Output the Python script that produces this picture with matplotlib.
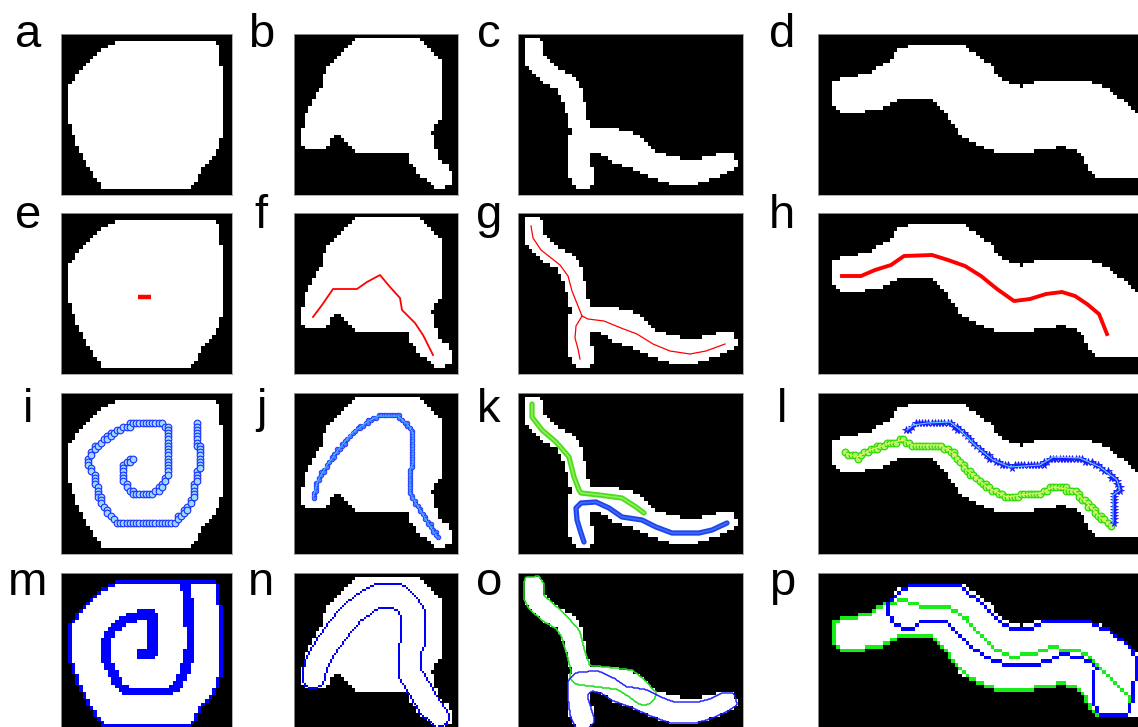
import numpy as np
import matplotlib
matplotlib.use('Agg')
import matplotlib.pyplot as plt
from matplotlib.path import Path

plt.rcParams['font.family'] = ['Liberation Sans', 'DejaVu Sans']

# object outlines, pixel coordinates inside each panel (y pointing down)
obj_a = [(57, 7), (151, 7), (159, 14), (161, 46), (162, 93), (159, 113), (152, 124), (142, 134),
         (131, 153), (41, 153), (29, 136), (19, 119), (14, 106), (9, 91), (9, 52), (19, 36),
         (29, 26), (41, 16), (52, 11)]
obj_b = [(63, 5), (124, 5), (149, 28), (149, 84), (140, 93), (138, 98), (141, 106), (143, 123),
         (153, 131), (158, 139), (157, 151), (143, 155), (126, 141), (116, 129), (114, 119),
         (64, 119), (41, 99), (38, 103), (36, 111), (29, 116), (13, 116), (8, 109), (8, 96),
         (13, 79), (21, 63), (29, 51), (31, 38), (38, 28), (46, 19)]
obj_c = [(9, 6), (20, 5), (24, 11), (24, 23), (35, 33), (49, 41), (59, 49), (64, 58), (65, 73),
         (68, 84), (70, 94), (99, 97), (114, 99), (125, 108), (135, 119), (152, 124), (172, 128),
         (189, 125), (202, 121), (215, 122), (217, 131), (210, 136), (195, 143), (179, 148),
         (152, 148), (132, 141), (115, 133), (95, 126), (85, 119), (74, 116), (70, 119), (70, 129),
         (74, 139), (74, 149), (69, 154), (59, 153), (54, 143), (52, 126), (52, 109), (55, 98),
         (50, 79), (45, 63), (39, 54), (25, 46), (12, 34), (8, 26), (8, 9)]
obj_d = [(14, 49), (22, 44), (49, 40), (59, 34), (70, 28), (82, 14), (102, 11), (145, 11),
         (159, 21), (172, 31), (185, 46), (202, 53), (224, 46), (282, 49), (295, 59), (309, 69),
         (319, 79), (320, 106), (320, 143), (312, 143), (304, 145), (279, 145), (269, 133),
         (262, 118), (245, 112), (235, 114), (209, 118), (182, 120), (162, 111), (145, 103),
         (132, 86), (119, 69), (115, 66), (79, 66), (69, 73), (52, 77), (25, 79), (17, 74), (13, 66)]
# the thin object is a little thicker than its traced outline
grow = [0.0, 0.0, 1.8, 0.0]

# medial lines (e - h)
skel_e = [(77, 84), (90, 84)]
skel_f = [(19, 104), (28, 92), (39, 76), (63, 76), (73, 69), (86, 62), (96, 74), (106, 85),
          (108, 97), (121, 110), (129, 122), (139, 142)]
skel_g_up = [(13, 13), (15, 25), (23, 37), (42, 52), (50, 63), (54, 78), (58, 88), (64, 103)]
skel_g_down = [(64, 103), (58, 113), (57, 125), (60, 136), (62, 146)]
skel_g_right = [(64, 103), (70, 106), (86, 108), (103, 115), (119, 121), (135, 131), (152, 138),
                (172, 141), (188, 138), (207, 131)]
skel_h = [(24, 63), (43, 63), (57, 57), (73, 52), (86, 43), (114, 42), (130, 47), (147, 53),
          (163, 63), (179, 76), (196, 88), (212, 86), (228, 81), (244, 79), (257, 83), (269, 91),
          (281, 101), (285, 111), (289, 121)]

# traced paths (i - l)
path_i = [(73, 65), (65, 69), (61, 75), (61, 84), (66, 94), (73, 100), (83, 102), (95, 99),
          (103, 89), (108, 80), (108, 54), (108, 37), (102, 30), (72, 30), (63, 35), (53, 39),
          (43, 47), (35, 54), (28, 64), (29, 74), (33, 84), (37, 100), (42, 112), (47, 120),
          (55, 129), (115, 129), (120, 122), (127, 114), (132, 104), (135, 84), (140, 74),
          (140, 58), (137, 52), (137, 29)]
path_j = [(19, 104), (24, 87), (33, 72), (44, 57), (58, 40), (73, 29), (84, 23), (104, 23),
          (114, 32), (119, 40), (119, 70), (116, 77), (116, 100), (123, 112), (128, 120),
          (134, 130), (143, 144)]
path_k_green = [(14, 11), (14, 24), (24, 37), (38, 49), (51, 64), (56, 84), (61, 97), (63, 100),
                (81, 102), (104, 105), (118, 114), (126, 120)]
path_k_blue = [(66, 149), (63, 140), (59, 127), (58, 115), (63, 110), (78, 109), (91, 115),
               (104, 124), (124, 127), (138, 134), (154, 140), (181, 140), (194, 137), (209, 130)]
path_l_green = [(27, 60), (39, 64), (52, 57), (72, 50), (85, 47), (95, 52), (122, 52), (135, 60),
                (149, 77), (169, 94), (189, 104), (202, 102), (222, 100), (235, 94), (255, 97),
                (269, 110), (282, 124), (292, 132)]
path_l_blue = [(89, 37), (95, 32), (109, 30), (132, 29), (142, 37), (159, 54), (175, 67), (192, 74),
               (222, 72), (235, 64), (262, 65), (282, 74), (299, 87), (302, 97), (295, 102),
               (295, 130)]

# gap left between the turns of the spiral (m)
gap_m = [(80, 81), (92, 81), (92, 42), (77, 42), (61, 49), (51, 57), (46, 67), (46, 87), (52, 102),
         (60, 114), (67, 119), (107, 119), (117, 112), (122, 102), (127, 87), (130, 70),
         (129, 54), (127, 30), (125, 15), (123, 10)]

letters = 'abcdefghijklmnop'
col_left = [61, 294, 518, 818]
col_width = [171, 164, 225, 322]
row_top = [34, 213, 393, 573]
letter_x = [28, 261, 489, 782]
letter_y = [47, 228, 422, 595]
ph = 161

W, H = 1138, 727
cs = 3.6
fig = plt.figure(figsize=(W / 100, H / 100), dpi=100)


def grid(w, h, step):
    nx = int(np.ceil(w / step))
    ny = int(np.ceil(h / step))
    X, Y = np.meshgrid((np.arange(nx) + 0.5) * step, (np.arange(ny) + 0.5) * step)
    return X, Y, (nx * step, ny * step)


def dist(line, X, Y):
    P = np.column_stack([X.ravel(), Y.ravel()])
    L = np.asarray(line, float)
    d = np.full(len(P), np.inf)
    for p0, p1 in zip(L[:-1], L[1:]):
        v = p1 - p0
        t = np.clip(((P - p0) @ v) / (v @ v), 0, 1)
        q = p0 + t[:, None] * v
        d = np.minimum(d, np.hypot(P[:, 0] - q[:, 0], P[:, 1] - q[:, 1]))
    return d.reshape(X.shape)


def inside(poly, X, Y, pad=0.0):
    pts = np.column_stack([X.ravel(), Y.ravel()])
    m = Path(poly).contains_points(pts).reshape(X.shape)
    if pad > 0:
        m |= dist(list(poly) + [poly[0]], X, Y) <= pad
    return m


def edge(m):
    p = np.pad(m, 1)
    core = p[1:-1, 1:-1] & p[:-2, 1:-1] & p[2:, 1:-1] & p[1:-1, :-2] & p[1:-1, 2:]
    return m & ~core


def cells(line, step):
    # pixels visited by a polyline, as cell centres
    L = np.asarray(line, float)
    out = []
    for p0, p1 in zip(L[:-1], L[1:]):
        n = int(np.ceil(np.hypot(*(p1 - p0)) / step)) + 1
        for t in np.linspace(0, 1, n):
            out.append(np.floor((p0 + t * (p1 - p0)) / step))
    c = np.unique(np.array(out), axis=0)
    return (c + 0.5) * step


def panel(r, c):
    ax = fig.add_axes([col_left[c] / W, 1 - (row_top[r] + ph) / H, col_width[c] / W, ph / H])
    ax.set_xticks([])
    ax.set_yticks([])
    for s in ax.spines.values():
        s.set_color('#a0a0a0')
        s.set_linewidth(0.6)
    fig.text(letter_x[c] / W, 1 - letter_y[r] / H, letters[4 * r + c], fontsize=34,
             ha='center', va='baseline')
    return ax


def show(ax, img, ext, w):
    ax.imshow(img, extent=[0, ext[0], ext[1], 0], interpolation='nearest', aspect='auto')
    ax.set_xlim(0, w)
    ax.set_ylim(ph, 0)


def line(ax, pts, **kw):
    xy = np.asarray(pts).T
    ax.plot(xy[0], xy[1], **kw)


shapes = [obj_a, obj_b, obj_c, obj_d]
grids = []
for c in range(4):
    X, Y, ext = grid(col_width[c], ph, cs)
    grids.append((X, Y, ext, inside(shapes[c], X, Y, grow[c])))


def white(c):
    mask = grids[c][3]
    img = np.zeros(mask.shape + (3,))
    img[mask] = 1.0
    return img


# row 1: binary objects
for c in range(4):
    ax = panel(0, c)
    show(ax, white(c), grids[c][2], col_width[c])

# row 2: medial lines in red
red = '#ff0000'
ax = panel(1, 0)
show(ax, white(0), grids[0][2], col_width[0])
line(ax, skel_e, color=red, lw=3.2, solid_capstyle='butt')
ax = panel(1, 1)
show(ax, white(1), grids[1][2], col_width[1])
line(ax, skel_f, color=red, lw=1.3)
ax = panel(1, 2)
show(ax, white(2), grids[2][2], col_width[2])
for s in (skel_g_up, skel_g_down, skel_g_right):
    line(ax, s, color=red, lw=0.9)
ax = panel(1, 3)
show(ax, white(3), grids[3][2], col_width[3])
line(ax, skel_h, color=red, lw=2.8)

# row 3: traced paths
ax = panel(2, 0)
show(ax, white(0), grids[0][2], col_width[0])
p = cells(path_i, 3.2)
ax.plot(p[:, 0], p[:, 1], 'o', ms=4.8, mfc='#96dcff', mec='#1e2cff', mew=0.8, ls='none')

ax = panel(2, 1)
show(ax, white(1), grids[1][2], col_width[1])
p = cells(path_j, 2.6)
ax.plot(p[:, 0], p[:, 1], 'o', ms=3.2, mfc='#4a7dff', mec='#2a3cff', mew=0.7, ls='none')
line(ax, path_j, color='#40c8ff', lw=0.7)

ax = panel(2, 2)
show(ax, white(2), grids[2][2], col_width[2])
line(ax, path_k_green, color='#4fdc1e', lw=3.8, solid_joinstyle='round', solid_capstyle='round')
line(ax, path_k_green, color='#8cf05a', lw=1.2)
line(ax, path_k_blue, color='#1f45e8', lw=3.8, solid_joinstyle='round', solid_capstyle='round')
line(ax, path_k_blue, color='#3d6bff', lw=1.2)

ax = panel(2, 3)
show(ax, white(3), grids[3][2], col_width[3])
p = cells(path_l_green, 3.2)
ax.plot(p[:, 0], p[:, 1], 'o', ms=4.8, mfc='#b8f27a', mec='#2edc00', mew=0.9, ls='none')
line(ax, path_l_green, color='#e4f85a', lw=0.8)
p = cells(path_l_blue, 3.2)
ax.plot(p[:, 0], p[:, 1], '*', ms=5.5, color='#1a1aff', mew=0.6, ls='none')
line(ax, path_l_blue, color='#5ad2ff', lw=0.8)

# row 4: regions covered by each path
blue = np.array([0.0, 0.0, 1.0])
green = np.array([0.1, 0.93, 0.1])

ax = panel(3, 0)
X, Y, ext, mask = grids[0]
img = white(0)
img[edge(mask) | (mask & (dist(gap_m, X, Y) <= 4.8))] = blue
show(ax, img, ext, col_width[0])

ax = panel(3, 1)
X, Y, ext, mask = grids[1]
show(ax, white(1), ext, col_width[1])
Xf, Yf, extf = grid(col_width[1], ph, 2.0)
ring = edge(inside(obj_b, Xf, Yf) & (dist(path_j, Xf, Yf) <= 12.5))
over = np.zeros(ring.shape + (4,))
over[ring] = [0, 0, 1, 1]
ax.imshow(over, extent=[0, extf[0], extf[1], 0], interpolation='nearest', aspect='auto')
ax.set_xlim(0, col_width[1])
ax.set_ylim(ph, 0)

ax = panel(3, 2)
X, Y, ext, mask = grids[2]
show(ax, white(2), ext, col_width[2])
Xf, Yf, _ = grid(col_width[2], ph, 1.0)
mf = inside(obj_c, Xf, Yf, grow[2])
ax.contour(Xf, Yf, (mf & (dist(path_k_green, Xf, Yf) <= 12)).astype(float), levels=[0.5],
           colors=['#1edc1e'], linewidths=1.1)
ax.contour(Xf, Yf, (mf & (dist(path_k_blue, Xf, Yf) <= 11)).astype(float), levels=[0.5],
           colors=['#1a1aff'], linewidths=1.0)
ax.set_xlim(0, col_width[2])
ax.set_ylim(ph, 0)

ax = panel(3, 3)
X, Y, ext, mask = grids[3]
img = white(3)
img[edge(mask & (dist(path_l_green, X, Y) <= 21))] = green
img[edge(mask & (dist(path_l_blue, X, Y) <= 20))] = blue
show(ax, img, ext, col_width[3])

fig.savefig('out.png', dpi=100)
